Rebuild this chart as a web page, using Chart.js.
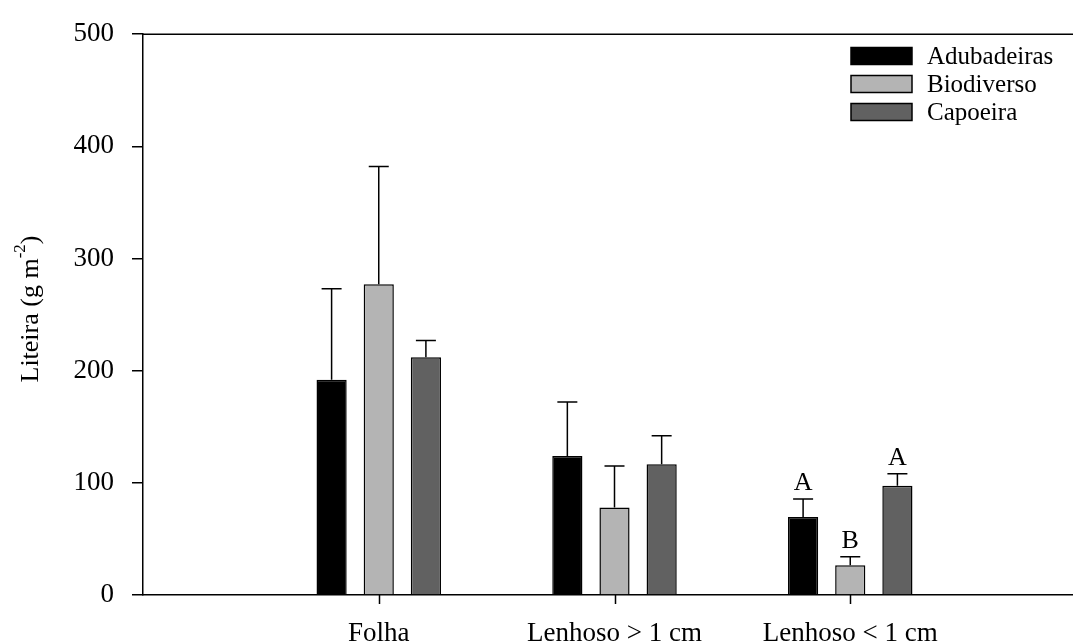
<!DOCTYPE html>
<html>
<head>
<meta charset="utf-8">
<script src="https://cdn.jsdelivr.net/npm/chart.js@4"></script>
<style>
  html, body { margin: 0; padding: 0; background: #fff; overflow: hidden; }
  #wrap { width: 1100px; height: 644px; }
</style>
</head>
<body>
<div id="wrap"><canvas id="chart" width="1100" height="644"></canvas></div>
<script>
// blank slots at both ends keep the spacing of the original axis
const categories = ['', 'Folha', 'Lenhoso > 1 cm', 'Lenhoso < 1 cm', '']
const seriesNames = ['Adubadeiras', 'Biodiverso', 'Capoeira']

const adubadeiras = [null, 192, 124, 69.5, null]
const biodiverso = [null, 277, 78, 26.5, null]
const capoeira = [null, 212, 116.5, 97.5, null]

// standard error (upper bar only)
const errAdubadeiras = [null, 81, 48, 16, null]
const errBiodiverso = [null, 105, 37, 7.5, null]
const errCapoeira = [null, 15, 25.5, 10.5, null]

// letters above the bars
const letAdubadeiras = ['', '', '', 'A', '']
const letBiodiverso = ['', '', '', 'B', '']
const letCapoeira = ['', '', '', 'A', '']

const yTicks = [0, 100, 200, 300, 400, 500]

const colors = ['#000000', '#b4b4b4', '#616161']
const serif = 'Liberation Serif'

const errorBars = {
  id: 'errorBars',
  afterDatasetsDraw (chart) {
    const { ctx } = chart
    const y = chart.scales.y
    ctx.save()
    ctx.strokeStyle = '#000'
    ctx.lineWidth = 1.5
    ctx.fillStyle = '#000'
    ctx.font = '26px ' + serif
    ctx.textAlign = 'center'
    ctx.textBaseline = 'alphabetic'
    chart.data.datasets.forEach((ds, i) => {
      const meta = chart.getDatasetMeta(i)
      meta.data.forEach((bar, j) => {
        const v = ds.data[j]
        if (v == null) return
        const top = y.getPixelForValue(v + ds.err[j])
        ctx.beginPath()
        ctx.moveTo(bar.x, bar.y)
        ctx.lineTo(bar.x, top)
        ctx.moveTo(bar.x - 10, top)
        ctx.lineTo(bar.x + 10, top)
        ctx.stroke()
        if (ds.letters[j]) ctx.fillText(ds.letters[j], bar.x, top - 9)
      })
    })
    ctx.restore()
  }
}

const frameAndLabels = {
  id: 'frameAndLabels',
  afterDraw (chart) {
    const { ctx, chartArea } = chart
    const xs = chart.scales.x
    ctx.save()
    ctx.strokeStyle = '#000'
    ctx.lineWidth = 1.5
    ctx.beginPath()
    // top frame line
    ctx.moveTo(chartArea.left, chartArea.top)
    ctx.lineTo(chartArea.right, chartArea.top)
    // category tick marks below the axis
    for (let i = 1; i < categories.length - 1; i++) {
      const px = Math.round(xs.getPixelForTick(i)) + 0.5
      ctx.moveTo(px, chartArea.bottom)
      ctx.lineTo(px, chartArea.bottom + 9)
    }
    ctx.stroke()

    // y title with superscript
    ctx.translate(31, 309)
    ctx.rotate(-Math.PI / 2)
    ctx.fillStyle = '#000'
    ctx.textBaseline = 'middle'
    ctx.textAlign = 'left'
    const big = '26px ' + serif
    const small = '17px ' + serif
    ctx.font = big
    const w1 = ctx.measureText('Liteira (g m').width
    const w3 = ctx.measureText(')').width
    ctx.font = small
    const w2 = ctx.measureText('-2').width
    let x = -(w1 + w2 + w3) / 2
    ctx.font = big
    ctx.fillText('Liteira (g m', x, 0)
    x += w1
    ctx.font = small
    ctx.fillText('-2', x, -10)
    x += w2
    ctx.font = big
    ctx.fillText(')', x, 0)
    ctx.restore()

    // legend
    ctx.save()
    ctx.font = '25px ' + serif
    ctx.textBaseline = 'middle'
    chart.data.datasets.forEach((ds, i) => {
      const cy = 56 + i * 28
      ctx.fillStyle = ds.backgroundColor
      ctx.fillRect(851, cy - 8.5, 61, 17)
      ctx.strokeStyle = '#000'
      ctx.lineWidth = 1.5
      ctx.strokeRect(851, cy - 8.5, 61, 17)
      ctx.fillStyle = '#000'
      ctx.fillText(ds.label, 927, cy + 1)
    })
    ctx.restore()
  }
}

const makeSet = (i, data, err, letters) => ({
  label: seriesNames[i],
  data: data,
  err: err,
  letters: letters,
  backgroundColor: colors[i],
  borderColor: '#000',
  borderWidth: 1.5,
  categoryPercentage: 0.6,
  barPercentage: 0.64
})

new Chart(document.getElementById('chart'), {
  type: 'bar',
  data: {
    labels: categories,
    datasets: [
      makeSet(0, adubadeiras, errAdubadeiras, letAdubadeiras),
      makeSet(1, biodiverso, errBiodiverso, letBiodiverso),
      makeSet(2, capoeira, errCapoeira, letCapoeira)
    ]
  },
  options: {
    responsive: false,
    animation: false,
    layout: { padding: { top: 24, right: 1, left: 0, bottom: 0 } },
    plugins: {
      legend: { display: false },
      tooltip: { enabled: false }
    },
    scales: {
      x: {
        offset: false,
        afterFit (scale) { scale.height = 49 },
        grid: {
          offset: false,
          drawOnChartArea: false,
          tickLength: 9,
          lineWidth: 1.5,
          color: 'rgba(0,0,0,0)'
        },
        border: { display: true, color: '#000', width: 1.5 },
        ticks: {
          color: '#000',
          padding: 14,
          autoSkip: false,
          maxRotation: 0,
          font: { family: serif, size: 27 }
        }
      },
      y: {
        min: 0,
        max: 500,
        afterFit (scale) { scale.width = 143 },
        afterBuildTicks (scale) { scale.ticks = yTicks.map(v => ({ value: v })) },
        grid: {
          drawOnChartArea: false,
          tickLength: 11,
          lineWidth: 1.5,
          color: '#000'
        },
        border: { display: true, color: '#000', width: 1.5 },
        ticks: {
          color: '#000',
          padding: 18,
          font: { family: serif, size: 27 }
        }
      }
    }
  },
  plugins: [errorBars, frameAndLabels]
})
</script>
</body>
</html>
